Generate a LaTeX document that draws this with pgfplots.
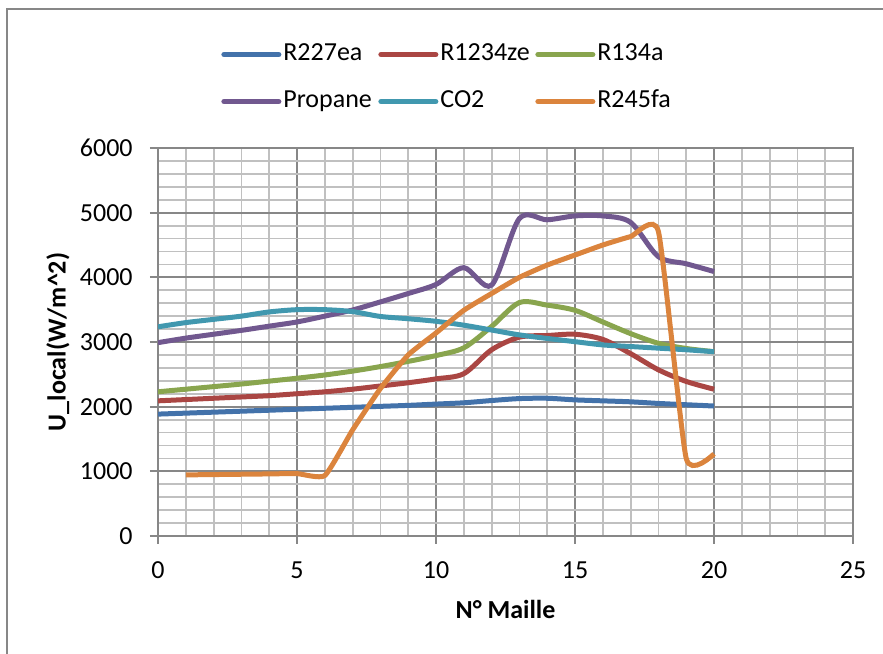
\documentclass[border=0pt]{standalone}
\usepackage{pgfplots}
\pgfplotsset{compat=1.18}
\usepackage{fontspec}
\setmainfont{Carlito}
\definecolor{cA}{HTML}{4372AA}
\definecolor{cB}{HTML}{AA4643}
\definecolor{cC}{HTML}{89A54E}
\definecolor{cD}{HTML}{71588F}
\definecolor{cE}{HTML}{4198AF}
\definecolor{cF}{HTML}{DB843D}
\definecolor{gmaj}{HTML}{878787}
\definecolor{gmin}{HTML}{C0C0C0}
\begin{document}
\begin{tikzpicture}
\useasboundingbox (0,0) rectangle (441.5pt,326.5pt);
\draw[gmaj, line width=1pt] (3.5pt,-1pt) -- (3.5pt,322pt) -- (442pt,322pt);
\begin{axis}[
  at={(79pt,58.5pt)}, anchor=origin,
  scale only axis, width=347.5pt, height=194pt,
  xmin=0, xmax=25, ymin=0, ymax=6000,
  xtick={0,5,10,15,20,25},
  ytick={0,1000,2000,3000,4000,5000,6000},
  minor x tick num=4, minor y tick num=4,
  grid=both,
  major grid style={gmaj, line width=0.9pt},
  minor grid style={gmin, line width=0.9pt},
  axis line style={gmaj, line width=0.9pt},
  tick style={gmaj, line width=0.9pt},
  major tick length=4pt, minor tick length=0pt,
  tick align=outside,
  xtick pos=bottom, ytick pos=left,
  /pgf/number format/assume math mode=true,
  /pgf/number format/1000 sep={},
  tick label style={font=\fontsize{13}{15}\selectfont, inner sep=0pt},
  yticklabel style={anchor=east, xshift=-8.5pt},
  xticklabel style={anchor=north, yshift=-8.5pt},
  xlabel={N° Maille},
  ylabel={U\_local(W/m\^{}2)},
  label style={font=\bfseries\fontsize{13}{15}\selectfont},
  xlabel style={at={(axis description cs:0.5,-0.1894)}, anchor=center},
  ylabel style={at={(axis description cs:-0.1439,0.5)}, anchor=center},
  legend columns=3,
  legend style={draw=none, fill=none, inner sep=0pt,
    at={(0.0906,1.278)}, anchor=north west,
    font=\fontsize{13}{15}\selectfont,
    nodes={inner sep=1pt, text height=9pt, text depth=3pt},
    row sep=9.5pt, column sep=0pt},
  legend cell align=left,
  legend image code/.code={\draw[#1, line width=2.5pt, line cap=round] (0pt,0pt) -- (27.5pt,0pt);},
  every axis plot/.append style={line width=2.5pt, smooth, no markers},
]
\addplot[cA] coordinates {(0,1885)(1,1900)(2,1915)(3,1930)(4,1945)(5,1960)(6,1975)(7,1990)(8,2005)(9,2020)(10,2040)(11,2060)(12,2095)(13,2125)(14,2130)(15,2105)(16,2090)(17,2075)(18,2050)(19,2030)(20,2010)};
\addlegendentry{\makebox[46.5pt][l]{R227ea}}
\addplot[cB] coordinates {(0,2090)(1,2110)(2,2130)(3,2150)(4,2170)(5,2200)(6,2230)(7,2270)(8,2320)(9,2370)(10,2430)(11,2510)(12,2880)(13,3075)(14,3100)(15,3120)(16,3040)(17,2820)(18,2570)(19,2390)(20,2270)};
\addlegendentry{\makebox[46.5pt][l]{R1234ze}}
\addplot[cC] coordinates {(0,2230)(1,2270)(2,2310)(3,2350)(4,2395)(5,2440)(6,2490)(7,2550)(8,2620)(9,2700)(10,2790)(11,2910)(12,3240)(13,3610)(14,3570)(15,3490)(16,3310)(17,3130)(18,2980)(19,2900)(20,2850)};
\addlegendentry{\makebox[46.5pt][l]{R134a}}
\addplot[cD] coordinates {(0,2990)(1,3060)(2,3120)(3,3180)(4,3245)(5,3310)(6,3400)(7,3495)(8,3620)(9,3750)(10,3890)(11,4150)(12,3880)(13,4910)(14,4890)(15,4950)(16,4950)(17,4850)(18,4320)(19,4210)(20,4090)};
\addlegendentry{\makebox[46.5pt][l]{Propane}}
\addplot[cE] coordinates {(0,3235)(1,3300)(2,3350)(3,3400)(4,3465)(5,3500)(6,3500)(7,3470)(8,3395)(9,3360)(10,3320)(11,3260)(12,3185)(13,3110)(14,3055)(15,3005)(16,2955)(17,2930)(18,2905)(19,2880)(20,2850)};
\addlegendentry{\makebox[46.5pt][l]{CO2}}
\addplot[cF, tension=0.3] coordinates {(1,945)(2,950)(3,955)(4,960)(5,965)(6,935)(7,1640)(8,2280)(9,2800)(10,3140)(11,3490)(12,3750)(13,4000)(14,4190)(15,4345)(16,4500)(17,4630)(18,4710)(19,1200)(20,1270)};
\addlegendentry{\makebox[46.5pt][l]{R245fa}}
\end{axis}
\end{tikzpicture}
\end{document}
